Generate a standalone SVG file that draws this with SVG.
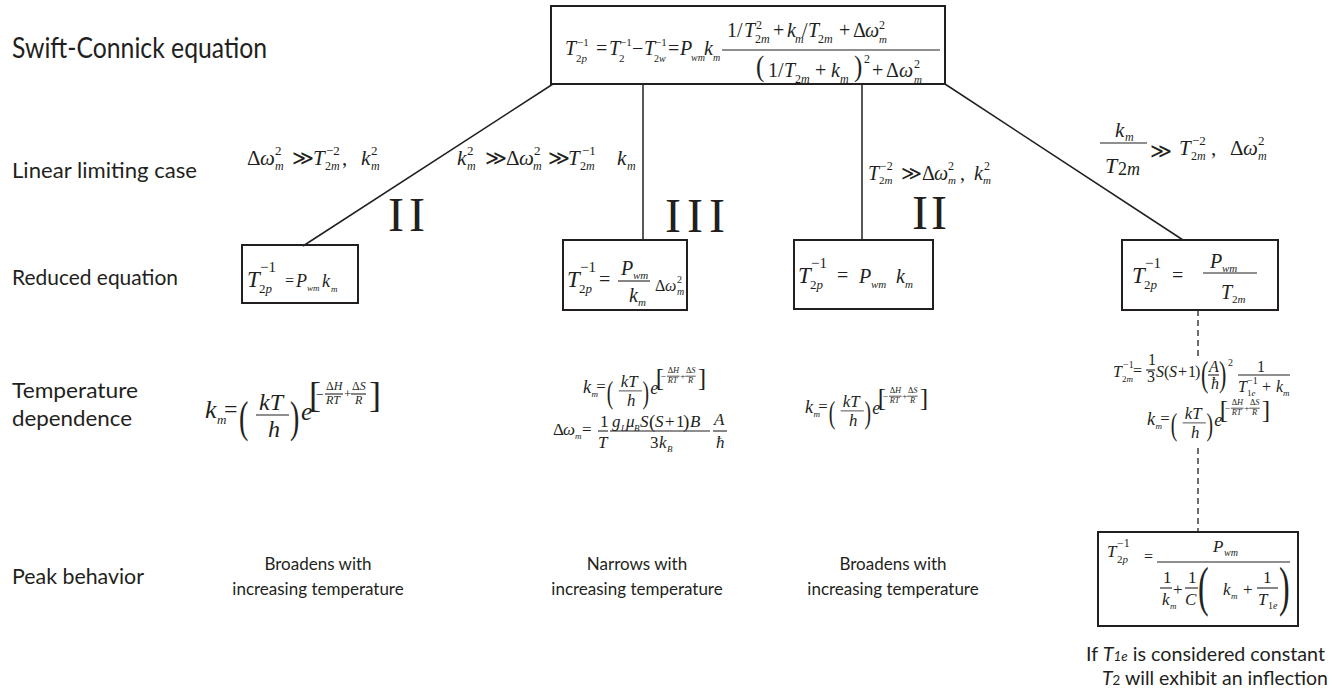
<svg xmlns="http://www.w3.org/2000/svg" width="1332" height="690" viewBox="0 0 1332 690">
<style>
.m{font-family:"Liberation Serif","DejaVu Serif",serif;fill:#231f20}
.i{font-style:italic}
.s{font-family:Lato,"Open Sans","Liberation Sans",sans-serif;fill:#231f20}
.bx{fill:none;stroke:#231f20;stroke-width:2}
.ln{fill:none;stroke:#231f20;stroke-width:1.5}
.fb{stroke:#231f20;stroke-width:1.1}
.dsh{fill:none;stroke:#231f20;stroke-width:1.3;stroke-dasharray:6 4}
.rn{font-family:"Liberation Serif",serif;fill:#231f20;font-size:48px}
</style>
<defs>
<g id="kmEq" class="m">
<text font-size="26" class="i" x="0" y="0">k</text>
<text font-size="13" class="i" x="12" y="6">m</text>
<text font-size="24" x="19" y="-1">=</text>
<text font-size="28" transform="translate(34 14) scale(1 1.59)">(</text>
<text font-size="24" class="i" x="54" y="-8">kT</text>
<line class="fb" x1="51" y1="-3" x2="84" y2="-3"/>
<text font-size="24" class="i" x="63" y="19">h</text>
<text font-size="28" transform="translate(85 14) scale(1 1.59)">)</text>
<text font-size="26" class="i" x="96" y="2">e</text>
<text font-size="36" x="104" y="-10.6">[</text>
<text font-size="14" x="111" y="-19">−</text>
<text font-size="12" x="121" y="-28">Δ<tspan class="i">H</tspan></text>
<line class="fb" x1="120" y1="-24" x2="138" y2="-24"/>
<text font-size="12" class="i" x="121" y="-14">RT</text>
<text font-size="13" x="139" y="-20">+</text>
<text font-size="12" x="147" y="-28">Δ<tspan class="i">S</tspan></text>
<line class="fb" x1="146" y1="-24" x2="161" y2="-24"/>
<text font-size="12" class="i" x="150" y="-14">R</text>
<text font-size="36" x="164" y="-10.6">]</text>
</g>
</defs>
<rect width="1332" height="690" fill="#fff"/>

<g id="connectors">
<line class="ln" x1="553" y1="84" x2="303" y2="246"/>
<line class="ln" x1="643" y1="84" x2="643" y2="240"/>
<line class="ln" x1="862" y1="84" x2="862" y2="240"/>
<line class="ln" x1="945" y1="84" x2="1183" y2="240"/>
<line class="dsh" x1="1198" y1="310" x2="1198" y2="358"/>
<line class="dsh" x1="1198" y1="448" x2="1198" y2="532"/>
</g>

<g id="row-labels">
<text class="s" x="12" y="58" font-size="28" textLength="255" lengthAdjust="spacingAndGlyphs">Swift-Connick equation</text>
<text class="s" x="12" y="178" font-size="21" textLength="185" lengthAdjust="spacingAndGlyphs">Linear limiting case</text>
<text class="s" x="12" y="285" font-size="21" textLength="166" lengthAdjust="spacingAndGlyphs">Reduced equation</text>
<text class="s" x="12" y="398" font-size="21" textLength="126" lengthAdjust="spacingAndGlyphs">Temperature</text>
<text class="s" x="12" y="426" font-size="21" textLength="120" lengthAdjust="spacingAndGlyphs">dependence</text>
<text class="s" x="12" y="584" font-size="21" textLength="132" lengthAdjust="spacingAndGlyphs">Peak behavior</text>
</g>

<g id="top-eq">
<rect class="bx" x="551" y="6" width="394" height="78"/>
<text class="m" font-size="20">
<tspan class="i" x="565" y="55">T</tspan>
<tspan font-size="11" x="577" y="46">−1</tspan>
<tspan font-size="11" x="576" y="62">2<tspan class="i">p</tspan></tspan>
<tspan x="596" y="55">=</tspan>
<tspan class="i" x="609" y="55">T</tspan>
<tspan font-size="11" x="620" y="46">−1</tspan>
<tspan font-size="11" x="619" y="62">2</tspan>
<tspan x="632" y="55">−</tspan>
<tspan class="i" x="644" y="55">T</tspan>
<tspan font-size="11" x="655" y="46">−1</tspan>
<tspan font-size="10" x="654" y="62">2<tspan class="i">w</tspan></tspan>
<tspan x="668" y="55">=</tspan>
<tspan class="i" x="680" y="55">P</tspan>
<tspan class="i" font-size="10" x="691" y="61">wm</tspan>
<tspan class="i" x="704" y="55">k</tspan>
<tspan class="i" font-size="10" x="713" y="61">m</tspan>
<tspan x="727" y="37">1</tspan>
<tspan x="737" y="37">/</tspan>
<tspan class="i" x="744" y="37">T</tspan>
<tspan font-size="12" x="756" y="29">2</tspan>
<tspan font-size="12" x="755" y="43">2<tspan class="i">m</tspan></tspan>
<tspan x="773" y="37">+</tspan>
<tspan class="i" x="787" y="37">k</tspan>
<tspan class="i" font-size="12" x="795" y="43">m</tspan>
<tspan x="802" y="37">/</tspan>
<tspan class="i" x="808" y="37">T</tspan>
<tspan font-size="12" x="818" y="43">2<tspan class="i">m</tspan></tspan>
<tspan x="839" y="37">+</tspan>
<tspan x="853" y="37">Δ</tspan>
<tspan class="i" x="865" y="37">ω</tspan>
<tspan font-size="12" x="879" y="29">2</tspan>
<tspan class="i" font-size="11" x="879" y="43">m</tspan>
<tspan x="768" y="77">1</tspan>
<tspan x="778" y="77">/</tspan>
<tspan class="i" x="784" y="77">T</tspan>
<tspan font-size="12" x="795" y="83">2<tspan class="i">m</tspan></tspan>
<tspan x="815" y="77">+</tspan>
<tspan class="i" x="831" y="77">k</tspan>
<tspan class="i" font-size="12" x="840" y="83">m</tspan>
<tspan font-size="12" x="864" y="63">2</tspan>
<tspan x="872" y="77">+</tspan>
<tspan x="886" y="77">Δ</tspan>
<tspan class="i" x="899" y="77">ω</tspan>
<tspan font-size="12" x="914" y="68">2</tspan>
<tspan class="i" font-size="11" x="914" y="83">m</tspan>
</text>
<text class="m" font-size="25" transform="translate(756 76) scale(1 1.22)">(</text>
<text class="m" font-size="25" transform="translate(854 76) scale(1 1.22)">)</text>
<line class="fb" x1="722" y1="50" x2="940" y2="50"/>
</g>

<g id="cond-left">
<text class="m" font-size="21">
<tspan x="247" y="165">Δ</tspan>
<tspan class="i" x="260" y="165">ω</tspan>
<tspan font-size="13" x="275" y="155">2</tspan>
<tspan class="i" font-size="12" x="275" y="170">m</tspan>
<tspan x="292" y="165">≫</tspan>
<tspan class="i" x="313" y="165">T</tspan>
<tspan font-size="13" x="326" y="155">−2</tspan>
<tspan font-size="12" x="325" y="170">2<tspan class="i">m</tspan></tspan>
<tspan x="342" y="165">,</tspan>
<tspan class="i" x="361" y="165">k</tspan>
<tspan font-size="13" x="371" y="155">2</tspan>
<tspan class="i" font-size="12" x="371" y="170">m</tspan>
</text>
<text class="rn" x="388" y="231" textLength="37" lengthAdjust="spacing">II</text>
</g>

<g id="cond-mid">
<text class="m" font-size="21">
<tspan class="i" x="457" y="165">k</tspan>
<tspan font-size="13" x="467" y="155">2</tspan>
<tspan class="i" font-size="12" x="467" y="170">m</tspan>
<tspan x="485" y="165">≫</tspan>
<tspan x="506" y="165">Δ</tspan>
<tspan class="i" x="519" y="165">ω</tspan>
<tspan font-size="13" x="534" y="155">2</tspan>
<tspan class="i" font-size="12" x="533" y="170">m</tspan>
<tspan x="548" y="165">≫</tspan>
<tspan class="i" x="568" y="165">T</tspan>
<tspan font-size="13" x="582" y="155">−1</tspan>
<tspan font-size="12" x="580" y="170">2<tspan class="i">m</tspan></tspan>
<tspan class="i" x="617" y="165">k</tspan>
<tspan class="i" font-size="12" x="627" y="170">m</tspan>
</text>
<text class="rn" x="665" y="232" textLength="60" lengthAdjust="spacing">III</text>
</g>

<g id="cond-right-mid">
<text class="m" font-size="20">
<tspan class="i" x="868" y="180">T</tspan>
<tspan font-size="12" x="880" y="170">−2</tspan>
<tspan font-size="11" x="879" y="184">2<tspan class="i">m</tspan></tspan>
<tspan x="901" y="180">≫</tspan>
<tspan x="922" y="180">Δ</tspan>
<tspan class="i" x="934" y="180">ω</tspan>
<tspan font-size="12" x="948" y="170">2</tspan>
<tspan class="i" font-size="11" x="948" y="184">m</tspan>
<tspan x="960" y="180">,</tspan>
<tspan class="i" x="974" y="180">k</tspan>
<tspan font-size="12" x="984" y="170">2</tspan>
<tspan class="i" font-size="11" x="983" y="184">m</tspan>
</text>
<text class="rn" x="912" y="229" textLength="35" lengthAdjust="spacing">II</text>
</g>

<g id="cond-right">
<text class="m" font-size="21">
<tspan class="i" x="1115" y="137">k</tspan>
<tspan class="i" font-size="12" x="1125" y="141">m</tspan>
<tspan class="i" font-size="22" x="1105" y="173">T</tspan>
<tspan font-size="18" x="1118" y="175">2<tspan class="i">m</tspan></tspan>
<tspan x="1150" y="158">≫</tspan>
<tspan class="i" x="1179" y="155">T</tspan>
<tspan font-size="13" x="1192" y="145">−2</tspan>
<tspan font-size="12" x="1191" y="160">2<tspan class="i">m</tspan></tspan>
<tspan x="1211" y="155">,</tspan>
<tspan x="1230" y="155">Δ</tspan>
<tspan class="i" x="1243" y="155">ω</tspan>
<tspan font-size="13" x="1258" y="145">2</tspan>
<tspan class="i" font-size="12" x="1258" y="160">m</tspan>
</text>
<line class="fb" x1="1100" y1="143" x2="1147" y2="143"/>
</g>

<g id="reduced-1">
<rect class="bx" x="242" y="245" width="116" height="58"/>
<text class="m">
<tspan class="i" font-size="23" x="247" y="287">T</tspan>
<tspan font-size="15" x="260" y="272">−1</tspan>
<tspan font-size="13" x="259" y="293">2<tspan class="i">p</tspan></tspan>
<tspan font-size="16" x="285" y="286">=</tspan>
<tspan class="i" font-size="18" x="296" y="287">P</tspan>
<tspan class="i" font-size="9" x="307" y="291">wm</tspan>
<tspan class="i" font-size="18" x="322" y="287">k</tspan>
<tspan class="i" font-size="9" x="331" y="292">m</tspan>
</text>
</g>

<g id="reduced-2">
<rect class="bx" x="563" y="240" width="124" height="70"/>
<text class="m">
<tspan class="i" font-size="23" x="567" y="287">T</tspan>
<tspan font-size="15" x="580" y="272">−1</tspan>
<tspan font-size="13" x="579" y="293">2<tspan class="i">p</tspan></tspan>
<tspan font-size="20" x="599" y="286">=</tspan>
<tspan class="i" font-size="20" x="621" y="275">P</tspan>
<tspan class="i" font-size="11" x="633" y="279">wm</tspan>
<tspan class="i" font-size="20" x="629" y="302">k</tspan>
<tspan class="i" font-size="11" x="638" y="306">m</tspan>
<tspan font-size="16" x="655" y="291">Δ</tspan>
<tspan class="i" font-size="16" x="665" y="291">ω</tspan>
<tspan font-size="10" x="677" y="283">2</tspan>
<tspan class="i" font-size="10" x="677" y="295">m</tspan>
</text>
<line class="fb" x1="618" y1="281" x2="650" y2="281"/>
</g>

<g id="reduced-3">
<rect class="bx" x="794" y="240" width="139" height="69"/>
<text class="m">
<tspan class="i" font-size="23" x="798" y="283">T</tspan>
<tspan font-size="15" x="811" y="268">−1</tspan>
<tspan font-size="13" x="810" y="289">2<tspan class="i">p</tspan></tspan>
<tspan font-size="20" x="837" y="282">=</tspan>
<tspan class="i" font-size="20" x="859" y="283">P</tspan>
<tspan class="i" font-size="11" x="871" y="288">wm</tspan>
<tspan class="i" font-size="20" x="896" y="283">k</tspan>
<tspan class="i" font-size="11" x="905" y="288">m</tspan>
</text>
</g>

<g id="reduced-4">
<rect class="bx" x="1122" y="240" width="156" height="70"/>
<text class="m">
<tspan class="i" font-size="23" x="1132" y="283">T</tspan>
<tspan font-size="15" x="1145" y="268">−1</tspan>
<tspan font-size="13" x="1144" y="289">2<tspan class="i">p</tspan></tspan>
<tspan font-size="20" x="1172" y="282">=</tspan>
<tspan class="i" font-size="20" x="1210" y="268">P</tspan>
<tspan class="i" font-size="11" x="1222" y="272">wm</tspan>
<tspan class="i" font-size="20" x="1221" y="299">T</tspan>
<tspan font-size="11" x="1232" y="303">2<tspan class="i">m</tspan></tspan>
</text>
<line class="fb" x1="1203" y1="273" x2="1257" y2="273"/>
</g>

<g id="temp-1">
<use href="#kmEq" transform="translate(205 418)"/>
</g>

<g id="temp-2">
<use href="#kmEq" transform="translate(583 393) scale(0.7)"/>
<text class="m" font-size="17">
<tspan x="553" y="435">Δ</tspan>
<tspan class="i" x="563" y="435">ω</tspan>
<tspan class="i" font-size="9" x="575" y="439">m</tspan>
<tspan x="582" y="435">=</tspan>
<tspan x="600" y="427">1</tspan>
<tspan class="i" x="598" y="448">T</tspan>
<tspan class="i" x="612" y="427">g</tspan>
<tspan class="i" font-size="9" x="621" y="431">L</tspan>
<tspan class="i" x="626" y="427">μ</tspan>
<tspan class="i" font-size="9" x="634" y="431">B</tspan>
<tspan class="i" x="640" y="427">S</tspan>
<tspan font-size="19" x="649" y="428">(</tspan>
<tspan class="i" x="655" y="427">S</tspan>
<tspan x="665" y="427">+</tspan>
<tspan x="676" y="427">1</tspan>
<tspan font-size="19" x="683" y="428">)</tspan>
<tspan class="i" x="690" y="427">B</tspan>
<tspan x="650" y="448">3</tspan>
<tspan class="i" x="659" y="448">k</tspan>
<tspan class="i" font-size="9" x="667" y="452">B</tspan>
<tspan class="i" x="714" y="425">A</tspan>
<tspan class="i" x="716" y="448">ħ</tspan>
</text>
<line class="fb" x1="598" y1="431" x2="608" y2="431"/>
<line class="fb" x1="610" y1="431" x2="710" y2="431"/>
<line class="fb" x1="713" y1="431" x2="727" y2="431"/>
</g>

<g id="temp-3">
<use href="#kmEq" transform="translate(805 413) scale(0.7)"/>
</g>

<g id="temp-4">
<g transform="translate(0 -8)">
<text class="m" font-size="16">
<tspan class="i" x="1113" y="385">T</tspan>
<tspan font-size="10" x="1123" y="376">−1</tspan>
<tspan font-size="9" x="1122" y="390">2<tspan class="i">m</tspan></tspan>
<tspan x="1133" y="384">=</tspan>
<tspan x="1148" y="373">1</tspan>
<tspan x="1147" y="390">3</tspan>
<tspan class="i" x="1156" y="385">S</tspan>
<tspan x="1164" y="385">(</tspan>
<tspan class="i" x="1169" y="385">S</tspan>
<tspan x="1178" y="385">+</tspan>
<tspan x="1188" y="385">1</tspan>
<tspan x="1195" y="385">)</tspan>
<tspan class="i" x="1209" y="380">A</tspan>
<tspan class="i" x="1211" y="397">ħ</tspan>
<tspan font-size="10" x="1228" y="374">2</tspan>
<tspan x="1257" y="380">1</tspan>
<tspan class="i" x="1238" y="400">T</tspan>
<tspan font-size="10" x="1247" y="392">−1</tspan>
<tspan font-size="9" x="1247" y="404">1<tspan class="i">e</tspan></tspan>
<tspan x="1262" y="400">+</tspan>
<tspan class="i" x="1276" y="400">k</tspan>
<tspan class="i" font-size="9" x="1283" y="404">m</tspan>
</text>
<text class="m" font-size="22" transform="translate(1201 394) scale(1 1.6)">(</text>
<text class="m" font-size="22" transform="translate(1219 394) scale(1 1.6)">)</text>
<line class="fb" x1="1146" y1="378" x2="1155" y2="378"/>
<line class="fb" x1="1208" y1="383" x2="1219" y2="383"/>
<line class="fb" x1="1238" y1="383" x2="1290" y2="383"/>
</g>
<use href="#kmEq" transform="translate(1147 425) scale(0.7)"/>
</g>

<g id="peak-1">
<text class="s" x="318" y="570" font-size="17" text-anchor="middle">Broadens with</text>
<text class="s" x="318" y="595" font-size="17" text-anchor="middle">increasing temperature</text>
</g>
<g id="peak-2">
<text class="s" x="637" y="570" font-size="17" text-anchor="middle">Narrows with</text>
<text class="s" x="637" y="595" font-size="17" text-anchor="middle">increasing temperature</text>
</g>
<g id="peak-3">
<text class="s" x="893" y="570" font-size="17" text-anchor="middle">Broadens with</text>
<text class="s" x="893" y="595" font-size="17" text-anchor="middle">increasing temperature</text>
</g>

<g id="peak-4">
<rect class="bx" x="1098" y="532" width="200" height="94"/>
<text class="m" font-size="17">
<tspan class="i" x="1107" y="557">T</tspan>
<tspan font-size="12" x="1117" y="547">−1</tspan>
<tspan font-size="11" x="1117" y="563">2<tspan class="i">p</tspan></tspan>
<tspan font-size="16" x="1144" y="562">=</tspan>
<tspan class="i" x="1213" y="552">P</tspan>
<tspan class="i" font-size="10" x="1224" y="556">wm</tspan>
<tspan x="1163" y="583">1</tspan>
<tspan class="i" x="1162" y="605">k</tspan>
<tspan class="i" font-size="9" x="1170" y="609">m</tspan>
<tspan x="1173" y="595">+</tspan>
<tspan x="1188" y="583">1</tspan>
<tspan class="i" x="1185" y="605">C</tspan>
<tspan class="i" x="1223" y="595">k</tspan>
<tspan class="i" font-size="9" x="1231" y="599">m</tspan>
<tspan x="1243" y="595">+</tspan>
<tspan x="1263" y="583">1</tspan>
<tspan class="i" x="1258" y="605">T</tspan>
<tspan font-size="10" x="1268" y="609">1<tspan class="i">e</tspan></tspan>
</text>
<text class="m" font-size="32" transform="translate(1198 605) scale(1 1.7)">(</text>
<text class="m" font-size="32" transform="translate(1279 605) scale(1 1.7)">)</text>
<line class="fb" x1="1157" y1="562" x2="1290" y2="562"/>
<line class="fb" x1="1160" y1="588" x2="1172" y2="588"/>
<line class="fb" x1="1185" y1="588" x2="1198" y2="588"/>
<line class="fb" x1="1257" y1="588" x2="1278" y2="588"/>
</g>

<g id="note">
<text class="s" x="1086" y="661" font-size="19" textLength="239" lengthAdjust="spacingAndGlyphs">If <tspan font-style="italic">T</tspan><tspan font-size="13" font-style="italic">1e</tspan> is considered constant</text>
<text class="s" x="1102" y="685" font-size="19" textLength="226" lengthAdjust="spacingAndGlyphs"><tspan font-style="italic">T</tspan><tspan font-size="13">2</tspan> will exhibit an inflection</text>
</g>
</svg>
